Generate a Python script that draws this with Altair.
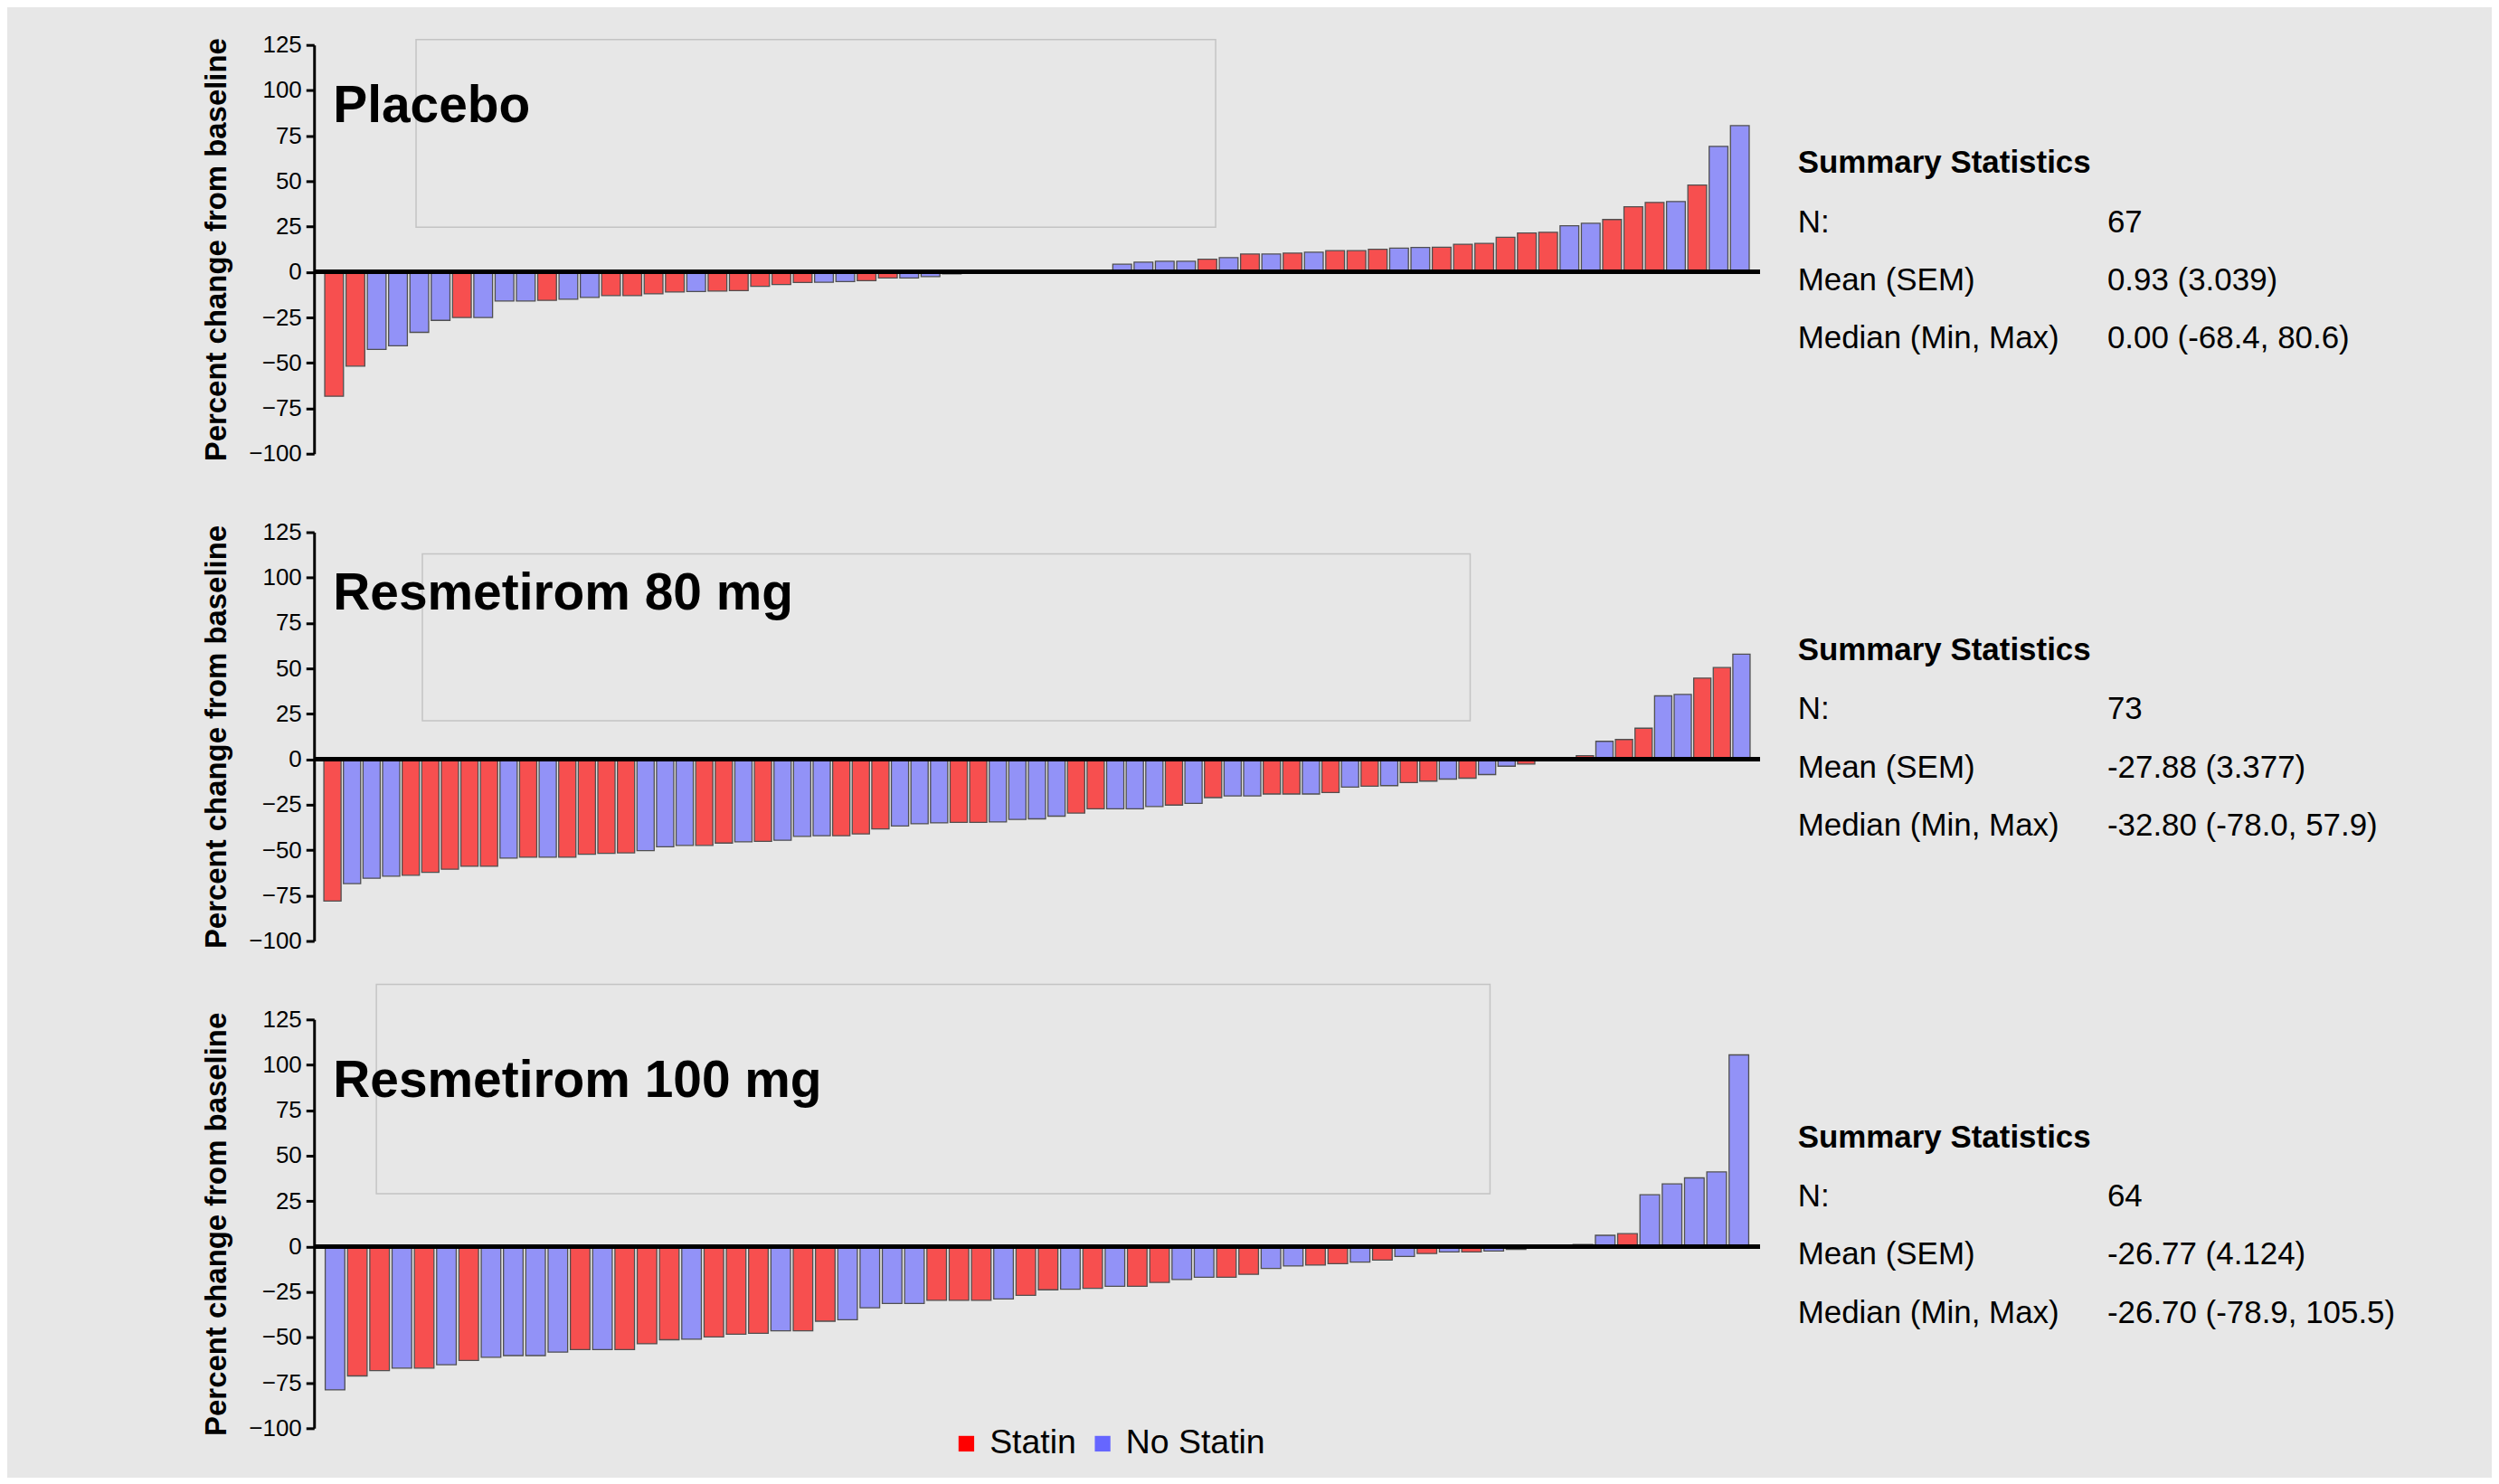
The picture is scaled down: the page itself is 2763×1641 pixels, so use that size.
import altair as alt
import pandas as pd

# ---------------- data ----------------
panel_names = ["Placebo", "Resmetirom 80 mg", "Resmetirom 100 mg"]

placebo_values = [
    -68.4, -51.8, -42.6, -40.6, -33.2, -26.6, -25.0, -25.0, -16.0, -16.0,
    -15.6, -15.0, -14.0, -13.0, -13.0, -12.0, -11.0, -10.7, -10.5, -10.2,
    -7.9, -6.9, -5.8, -5.6, -5.3, -4.8, -3.3, -3.3, -2.5, -1.0,
    -0.6, -0.3, 0.0, 0.0, 0.0, 0.0, 0.0, 4.3, 5.4, 5.9,
    5.9, 7.1, 7.9, 9.9, 9.9, 10.4, 10.9, 11.8, 11.8, 12.5,
    13.2, 13.5, 13.7, 15.3, 15.8, 19.1, 21.5, 21.9, 25.5, 26.8,
    28.9, 35.9, 38.3, 38.8, 47.9, 69.2, 80.6,
]
placebo_groups = [
    "S", "S", "N", "N", "N", "N", "S", "N", "N", "N",
    "S", "N", "N", "S", "S", "S", "S", "N", "S", "S",
    "S", "S", "S", "N", "N", "S", "S", "N", "N", "N",
    "S", "N", "S", "N", "S", "N", "S", "N", "N", "N",
    "N", "S", "N", "S", "N", "S", "N", "S", "S", "S",
    "N", "N", "S", "S", "S", "S", "S", "S", "N", "N",
    "S", "S", "S", "N", "S", "N", "N",
]

res80_values = [
    -78.0, -68.4, -65.5, -64.3, -63.8, -62.2, -60.5, -58.9, -58.9, -54.4,
    -53.9, -53.9, -53.9, -52.3, -51.8, -51.5, -50.3, -48.2, -47.4, -47.4,
    -46.1, -45.4, -45.2, -44.6, -42.4, -42.1, -42.1, -41.1, -38.3, -36.7,
    -35.5, -35.0, -34.7, -34.7, -34.5, -33.1, -32.8, -31.3, -29.6, -27.3,
    -27.3, -27.3, -26.0, -25.2, -24.3, -21.1, -20.2, -20.2, -19.1, -19.1,
    -19.1, -18.3, -15.3, -14.8, -14.5, -12.8, -12.0, -10.9, -10.4, -8.4,
    -3.8, -2.6, -0.3, 0.3, 2.0, 9.9, 10.9, 17.1, 34.9, 35.7,
    44.7, 50.5, 57.9,
]
res80_groups = [
    "S", "N", "N", "N", "S", "S", "S", "S", "S", "N",
    "S", "N", "S", "S", "S", "S", "N", "N", "N", "S",
    "S", "N", "S", "N", "N", "N", "S", "S", "S", "N",
    "N", "N", "S", "S", "N", "N", "N", "N", "S", "S",
    "N", "N", "N", "S", "N", "S", "N", "N", "S", "S",
    "N", "S", "N", "S", "N", "S", "S", "N", "S", "N",
    "N", "S", "N", "S", "S", "N", "S", "S", "N", "N",
    "S", "S", "N",
]

res100_values = [
    -78.9, -71.2, -68.3, -66.9, -66.9, -65.0, -62.7, -60.9, -60.0, -60.0,
    -58.1, -56.7, -56.7, -56.7, -53.5, -51.3, -51.0, -49.7, -48.2, -47.7,
    -46.4, -46.4, -41.1, -40.3, -33.7, -31.3, -31.3, -29.6, -29.6, -29.6,
    -28.8, -26.8, -23.8, -23.5, -23.0, -21.9, -21.9, -19.7, -18.1, -16.9,
    -16.9, -15.3, -12.0, -10.7, -10.2, -9.4, -8.6, -7.4, -5.4, -3.8,
    -3.0, -3.0, -2.5, -1.6, -0.4, -0.2, 1.2, 6.2, 7.1, 28.5,
    34.5, 37.8, 41.1, 105.5,
]
res100_groups = [
    "N", "S", "S", "N", "S", "N", "S", "N", "N", "N",
    "N", "S", "N", "S", "S", "S", "N", "S", "S", "S",
    "N", "S", "S", "N", "N", "N", "N", "S", "S", "S",
    "N", "S", "S", "N", "S", "N", "S", "S", "N", "N",
    "S", "S", "N", "N", "S", "S", "N", "S", "N", "S",
    "N", "S", "N", "S", "N", "S", "N", "N", "S", "N",
    "N", "N", "N", "N",
]

stats_n = ["67", "73", "64"]
stats_mean = ["0.93 (3.039)", "-27.88 (3.377)", "-26.77 (4.124)"]
stats_median = ["0.00 (-68.4, 80.6)", "-32.80 (-78.0, 57.9)", "-26.70 (-78.9, 105.5)"]

y_ticks = [125, 100, 75, 50, 25, 0, -25, -50, -75, -100]
group_labels = {"S": "Statin", "N": "No Statin"}

# ---------------- styling ----------------
FONT = "Liberation Sans"
W = 1602
H = 453
BG = "#e7e7e7"

color_scale = alt.Scale(domain=["Statin", "No Statin"], range=["#ff0000", "#6666ff"])

# decorative frames (pixel boxes inside each panel)
frames = [(113, 999, -6, 202), (120, 1281, 24, 209), (69, 1303, -39, 193)]


def panel(i, values, groups):
    df = pd.DataFrame({
        "idx": list(range(1, len(values) + 1)),
        "value": values,
        "group": [group_labels[g] for g in groups],
    })
    yscale = alt.Scale(domain=[-100, 125], nice=False, zero=False)
    yaxis = alt.Axis(
        values=y_ticks, title="Percent change from baseline", grid=False,
        domainColor="black", domainWidth=3, tickColor="black", tickWidth=3,
        tickSize=9, labelFont=FONT, labelFontSize=26, labelColor="black",
        labelPadding=5, titleFont=FONT, titleFontSize=33, titleFontWeight="bold",
        titleColor="black", titlePadding=18,
    )
    bars = alt.Chart(df).mark_bar(
        stroke="#505050", strokeWidth=1.3, fillOpacity=0.66
    ).encode(
        x=alt.X("idx:O", axis=None,
                scale=alt.Scale(paddingInner=0.12, paddingOuter=0.5)),
        y=alt.Y("value:Q", scale=yscale, axis=yaxis),
        color=alt.Color(
            "group:N", scale=color_scale,
            legend=alt.Legend(
                title=None, orient="none", direction="horizontal",
                legendX=704, legendY=1531, symbolType="square",
                symbolSize=300, symbolOpacity=1, symbolStrokeWidth=0,
                labelFont=FONT, labelFontSize=37.5, labelColor="black",
                labelOffset=7, columnPadding=10,
            ),
        ),
    )
    zero = alt.Chart(df).mark_rule(color="black", strokeWidth=4).encode(
        y=alt.datum(0)
    )
    fx1, fx2, fy1, fy2 = frames[i]
    frame = alt.Chart(pd.DataFrame({"k": [0]})).mark_rect(
        fill=None, stroke="#c4c4c4", strokeWidth=1.5
    ).encode(
        x=alt.value(fx1), x2=alt.value(fx2), y=alt.value(fy1), y2=alt.value(fy2)
    )
    label = alt.Chart(pd.DataFrame({"t": [panel_names[i]]})).mark_text(
        align="left", baseline="middle", font=FONT, fontSize=57,
        fontWeight="bold", color="black",
    ).encode(text="t:N", x=alt.value(21), y=alt.datum(91))

    sdf = pd.DataFrame({
        "lab": ["N:", "Mean (SEM)", "Median (Min, Max)"],
        "val": [stats_n[i], stats_mean[i], stats_median[i]],
        "ypos": [27.5, -4.5, -36.5],
    })
    head = alt.Chart(pd.DataFrame({"t": ["Summary  Statistics"]})).mark_text(
        align="left", baseline="middle", font=FONT, fontSize=35,
        fontWeight="bold", color="black",
    ).encode(text="t:N", x=alt.value(1644), y=alt.datum(60))
    labs = alt.Chart(sdf).mark_text(
        align="left", baseline="middle", font=FONT, fontSize=35, color="black"
    ).encode(text="lab:N", x=alt.value(1644), y=alt.Y("ypos:Q"))
    vals = alt.Chart(sdf).mark_text(
        align="left", baseline="middle", font=FONT, fontSize=35, color="black"
    ).encode(text="val:N", x=alt.value(1987), y=alt.Y("ypos:Q"))

    return alt.layer(frame, bars, zero, label, head, labs, vals).properties(
        width=W, height=H
    )


chart = alt.vconcat(
    panel(0, placebo_values, placebo_groups),
    panel(1, res80_values, res80_groups),
    panel(2, res100_values, res100_groups),
    spacing=87, bounds="flush",
).resolve_scale(x="independent", y="independent", color="shared").properties(
    background=BG,
    padding={"left": 216, "top": 27, "right": 106, "bottom": 17},
).configure_view(stroke=None)

chart.save("out.html", embed_options={"renderer": "svg", "actions": False})
